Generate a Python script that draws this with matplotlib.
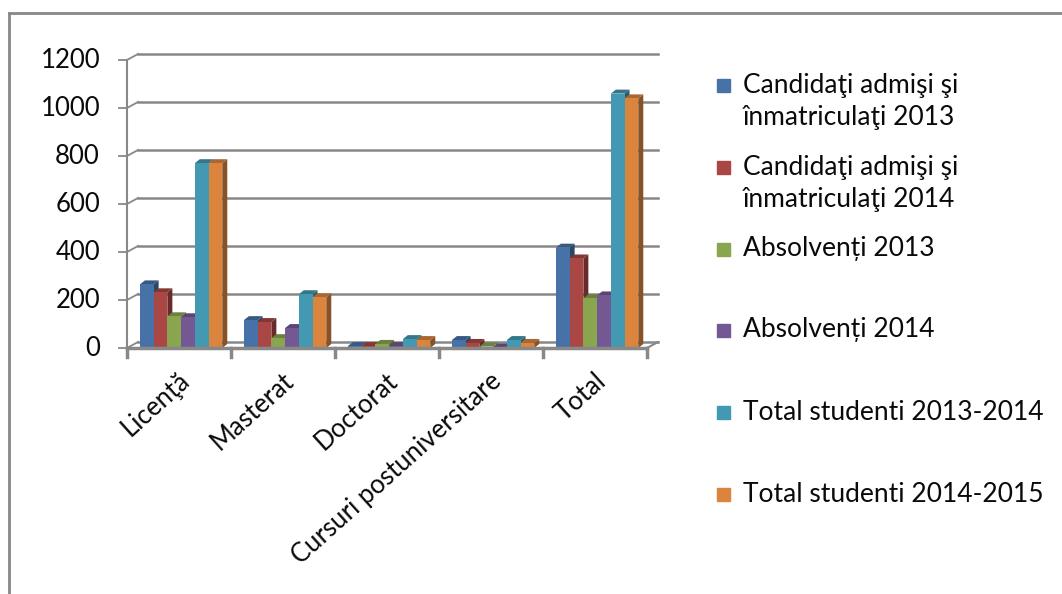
import matplotlib.pyplot as plt
import numpy as np
from matplotlib.patches import Polygon, Rectangle
from matplotlib.lines import Line2D
from matplotlib.transforms import ScaledTranslation

plt.rcParams['font.family'] = ['Lato', 'DejaVu Sans']

categorii = ['Licenţă', 'Masterat', 'Doctorat', 'Cursuri postuniversitare', 'Total']
serii = ['Candidaţi admişi şi\nînmatriculaţi 2013',
         'Candidaţi admişi şi\nînmatriculaţi 2014',
         'Absolvenți 2013',
         'Absolvenți 2014',
         'Total studenti 2013-2014',
         'Total studenti 2014-2015']
admisi_2013 = [265, 116, 8, 33, 418]
admisi_2014 = [232, 108, 8, 21, 373]
absolventi_2013 = [132, 41, 17, 6, 207]
absolventi_2014 = [128, 83, 8, 2, 219]
studenti_2013_2014 = [770, 224, 37, 33, 1060]
studenti_2014_2015 = [770, 211, 33, 21, 1040]
valori = [admisi_2013, admisi_2014, absolventi_2013, absolventi_2014,
          studenti_2013_2014, studenti_2014_2015]
culori = ['#4672A8', '#AA4643', '#89A54E', '#735893', '#4399B1', '#DB843D']
yticks = [0, 200, 400, 600, 800, 1000, 1200]

W, H = 1062, 594
fig = plt.figure(figsize=(W / 100, H / 100), dpi=100)
ax = fig.add_axes([127 / W, 1 - 348 / H, 520 / W, 288 / H])
ax.set_xlim(-0.5, 4.5)
ax.set_ylim(0, 1200)
ax.axis('off')

gri = '#888888'
negru = '#0a0a0a'
# px -> data
px_x = 5 / 520
px_y = 1200 / 288

# back wall grid lines, shifted in depth
back = ax.transData + ScaledTranslation(11 / 100, 6 / 100, fig.dpi_scale_trans)
for v in yticks:
    ax.plot([-0.5, 4.5], [v, v], color=gri, lw=1.8, transform=back, clip_on=False, zorder=1)
    ax.plot([-0.5 - 8 * px_x, -0.5, -0.5 + 11 * px_x],
            [v, v, v + 6 * px_y], color=gri, lw=1.3, clip_on=False, zorder=1)
    ax.text(-0.5 - 27 * px_x, v, str(v), ha='right', va='center', fontsize=18.5,
            color=negru)
# right floor edge
ax.plot([4.5, 4.5 + 11 * px_x], [0, 6 * px_y], color=gri, lw=1.5, clip_on=False, zorder=1)
# front axes
ax.plot([-0.5, -0.5], [0, 1200], color=gri, lw=1.5, clip_on=False, zorder=2)
ax.plot([-0.5, 4.5], [0, 0], color=gri, lw=2.5, clip_on=False, zorder=6)
for k in range(6):
    ax.plot([k - 0.5, k - 0.5], [0, -9 * px_y], color=gri, lw=2.5, clip_on=False, zorder=6)

# bars with faux 3d faces
n = len(valori)
w = 0.132
x = np.arange(len(categorii))
dx, dy = 5 * px_x, 4 * px_y
for i, (vals, c) in enumerate(zip(valori, culori)):
    xs = x - w * n / 2 + w * i + w / 2 + 0.02
    bars = ax.bar(xs, vals, width=w, color=c, zorder=3 + i * 0.01)
    rgb = np.array(plt.matplotlib.colors.to_rgb(c))
    for b in bars:
        x0, x1, h = b.get_x(), b.get_x() + b.get_width(), b.get_height()
        side = Polygon([(x1, 0), (x1, h), (x1 + dx, h + dy), (x1 + dx, dy)],
                       closed=True, color=rgb * 0.62, zorder=2.9 + i * 0.01, lw=0)
        top = Polygon([(x0, h), (x0 + dx, h + dy), (x1 + dx, h + dy), (x1, h)],
                      closed=True, color=rgb * 0.78, zorder=2.95 + i * 0.01, lw=0)
        ax.add_patch(side)
        ax.add_patch(top)

for k, cat in enumerate(categorii):
    ax.text(k - 0.01, -20 * px_y, cat, rotation=42, ha='right', va='top',
            rotation_mode='anchor', fontsize=18.5, color=negru)

# legend drawn by hand so the marker sits on the first line
ley = [85, 167, 249, 330, 412, 494]
for lab, c, yy in zip(serii, culori, ley):
    fig.patches.append(Rectangle((717 / W, 1 - (yy + 7) / H), 13 / W, 13 / H,
                                 transform=fig.transFigure, color=c))
    for j, linie in enumerate(lab.split('\n')):
        fig.text(743 / W, 1 - (yy + 33 * j) / H, linie, ha='left', va='center',
                 fontsize=19, color=negru)

# outer frame
fig.add_artist(Line2D([9 / W, 9 / W], [0, 1 - 13 / H], color=gri, lw=2))
fig.add_artist(Line2D([9 / W, 1], [1 - 13 / H, 1 - 13 / H], color=gri, lw=2))

fig.savefig('out.png', dpi=100)
